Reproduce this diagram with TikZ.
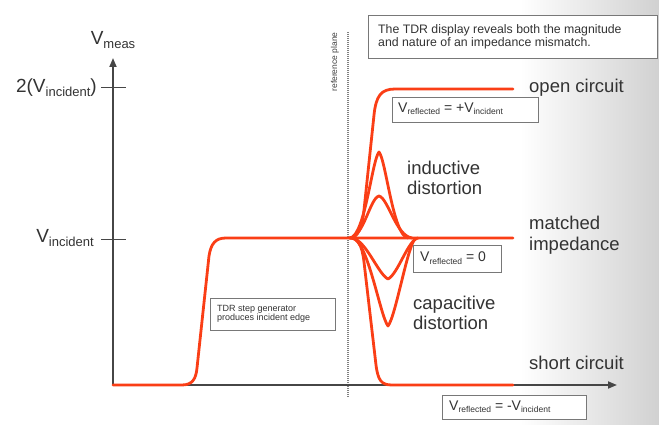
\documentclass[tikz,border=0pt]{standalone}
\usepackage{fontspec}
\setmainfont{Liberation Sans}
\usetikzlibrary{arrows.meta}
\definecolor{tdrred}{RGB}{250,62,22}
\definecolor{axisgray}{RGB}{70,70,70}
\definecolor{boxgray}{RGB}{120,120,120}
\newcommand\fsz[1]{\fontsize{#1}{#1}\selectfont}
\newcommand\lowsub[2]{{\fsz{#1}\raisebox{-0.28em}{#2}}}
\tikzset{
  curve/.style={draw=tdrred, line width=2.8pt, line cap=round, line join=round},
  axisline/.style={draw=axisgray, line width=1.8pt, -{Triangle[length=9pt,width=7pt]}},
  tickline/.style={draw=axisgray, line width=1pt},
  biglabel/.style={anchor=west, inner sep=0pt, text=black!80, font=\fsz{18.5}, align=left},
  vallabel/.style={inner sep=0pt, text=black!80, font=\fsz{19}},
  infobox/.style={draw=boxgray, line width=0.8pt, fill=white, inner sep=0pt, anchor=north west},
  boxtext/.style={anchor=west, inner sep=0pt, text=black!80, align=left}
}
\begin{document}
\begin{tikzpicture}[x=1pt,y=-1pt]
\useasboundingbox (0,0) rectangle (659,425);
% background gradient on the right
\shade[left color=white, right color=black!18, draw=none] (520,0) rectangle (659,425);
% reference plane
\coordinate (rpTop) at (348,32);
\coordinate (rpBot) at (348,398);
\draw[draw=gray, line width=1.2pt, dash pattern=on 1pt off 1pt] (rpTop) -- (rpBot);
\node[rotate=90, inner sep=0pt, text=black!75, font=\fsz{8.5}] (rplabel) at (335,62) {reference plane};
% axes
\coordinate (origin) at (113,385);
\coordinate (ytip) at (113,58);
\coordinate (xtip) at (617,385);
\draw[axisline] (origin) -- (ytip);
\draw[axisline] (origin) -- (xtip);
\coordinate (t2a) at (101,88);
\coordinate (t2b) at (126,88);
\coordinate (t1a) at (101,239);
\coordinate (t1b) at (126,239);
\draw[tickline] (t2a) -- (t2b);
\draw[tickline] (t1a) -- (t1b);
\node[vallabel, anchor=center] (vmeas) at (113,40) {V\lowsub{13}{meas}};
\node[vallabel, anchor=east] (v2inc) at (97,88) {2(V\lowsub{13}{incident})};
\node[vallabel, anchor=east] (vinc) at (94,238) {V\lowsub{13}{incident}};
% curves
\draw[curve] (113,385) -- (182,385) .. controls (193,385) and (196,378) .. (197,368)
  -- (209,256) .. controls (211,243) and (216,238) .. (226,238) -- (513,238);
% open circuit
\draw[curve] (349,238) .. controls (358,238) and (362,228) .. (364,210)
  -- (374,115) .. controls (376,96) and (381,89) .. (395,89) -- (513,89);
% short circuit
\draw[curve] (350,238) .. controls (358,238) and (362,245) .. (364,262)
  -- (376,365) .. controls (378,380) and (381,385) .. (392,385) -- (513,385);
% inductive
\draw[curve] (350,238) .. controls (365,236) and (372,160) .. (379,152)
  .. controls (386,160) and (393,236) .. (408,238);
\draw[curve] (350,238) .. controls (364,236) and (370,198) .. (379,196)
  .. controls (388,198) and (396,236) .. (412,238);
% capacitive
\draw[curve] (352,238) .. controls (366,240) and (378,274) .. (388,279)
  .. controls (398,274) and (408,240) .. (418,238);
\draw[curve] (352,238) .. controls (368,240) and (380,316) .. (388,326)
  .. controls (396,316) and (408,242) .. (416,238);
% labels
\node[biglabel] (open) at (529,88) {open circuit};
\node[biglabel] (induct) at (407,178) {inductive\\[2pt]distortion};
\node[biglabel] (matched) at (529,235) {matched\\[2pt]impedance};
\node[biglabel] (capac) at (413,313) {capacitive\\[2pt]distortion};
\node[biglabel] (short) at (529,363) {short circuit};
% boxes
\node[infobox, minimum width=289pt, minimum height=43pt] (tdrbox) at (368,15) {};
\node[boxtext, font=\fsz{12.3}, align=left] (tdrtext) at (378,37) {The TDR display reveals both the magnitude\\[1pt]and nature of an impedance mismatch.};
\node[infobox, minimum width=146pt, minimum height=25pt] (openbox) at (392,97) {};
\node[boxtext, font=\fsz{14}] (opentext) at (398,109) {V\lowsub{8.5}{reflected} = +V\lowsub{8.5}{incident}};
\node[infobox, minimum width=88pt, minimum height=27pt] (matchbox) at (413,245) {};
\node[boxtext, font=\fsz{14}] (matchtext) at (420,258) {V\lowsub{8.5}{reflected} = 0};
\node[infobox, minimum width=144pt, minimum height=24pt] (shortbox) at (442,395) {};
\node[boxtext, font=\fsz{14}] (shorttext) at (449,407) {V\lowsub{8.5}{reflected} = -V\lowsub{8.5}{incident}};
\node[infobox, minimum width=125pt, minimum height=32pt] (genbox) at (210,298) {};
\node[boxtext, font=\fsz{9}] (gentext) at (217,314) {TDR step generator\\[0pt]produces incident edge};
\end{tikzpicture}
\end{document}
